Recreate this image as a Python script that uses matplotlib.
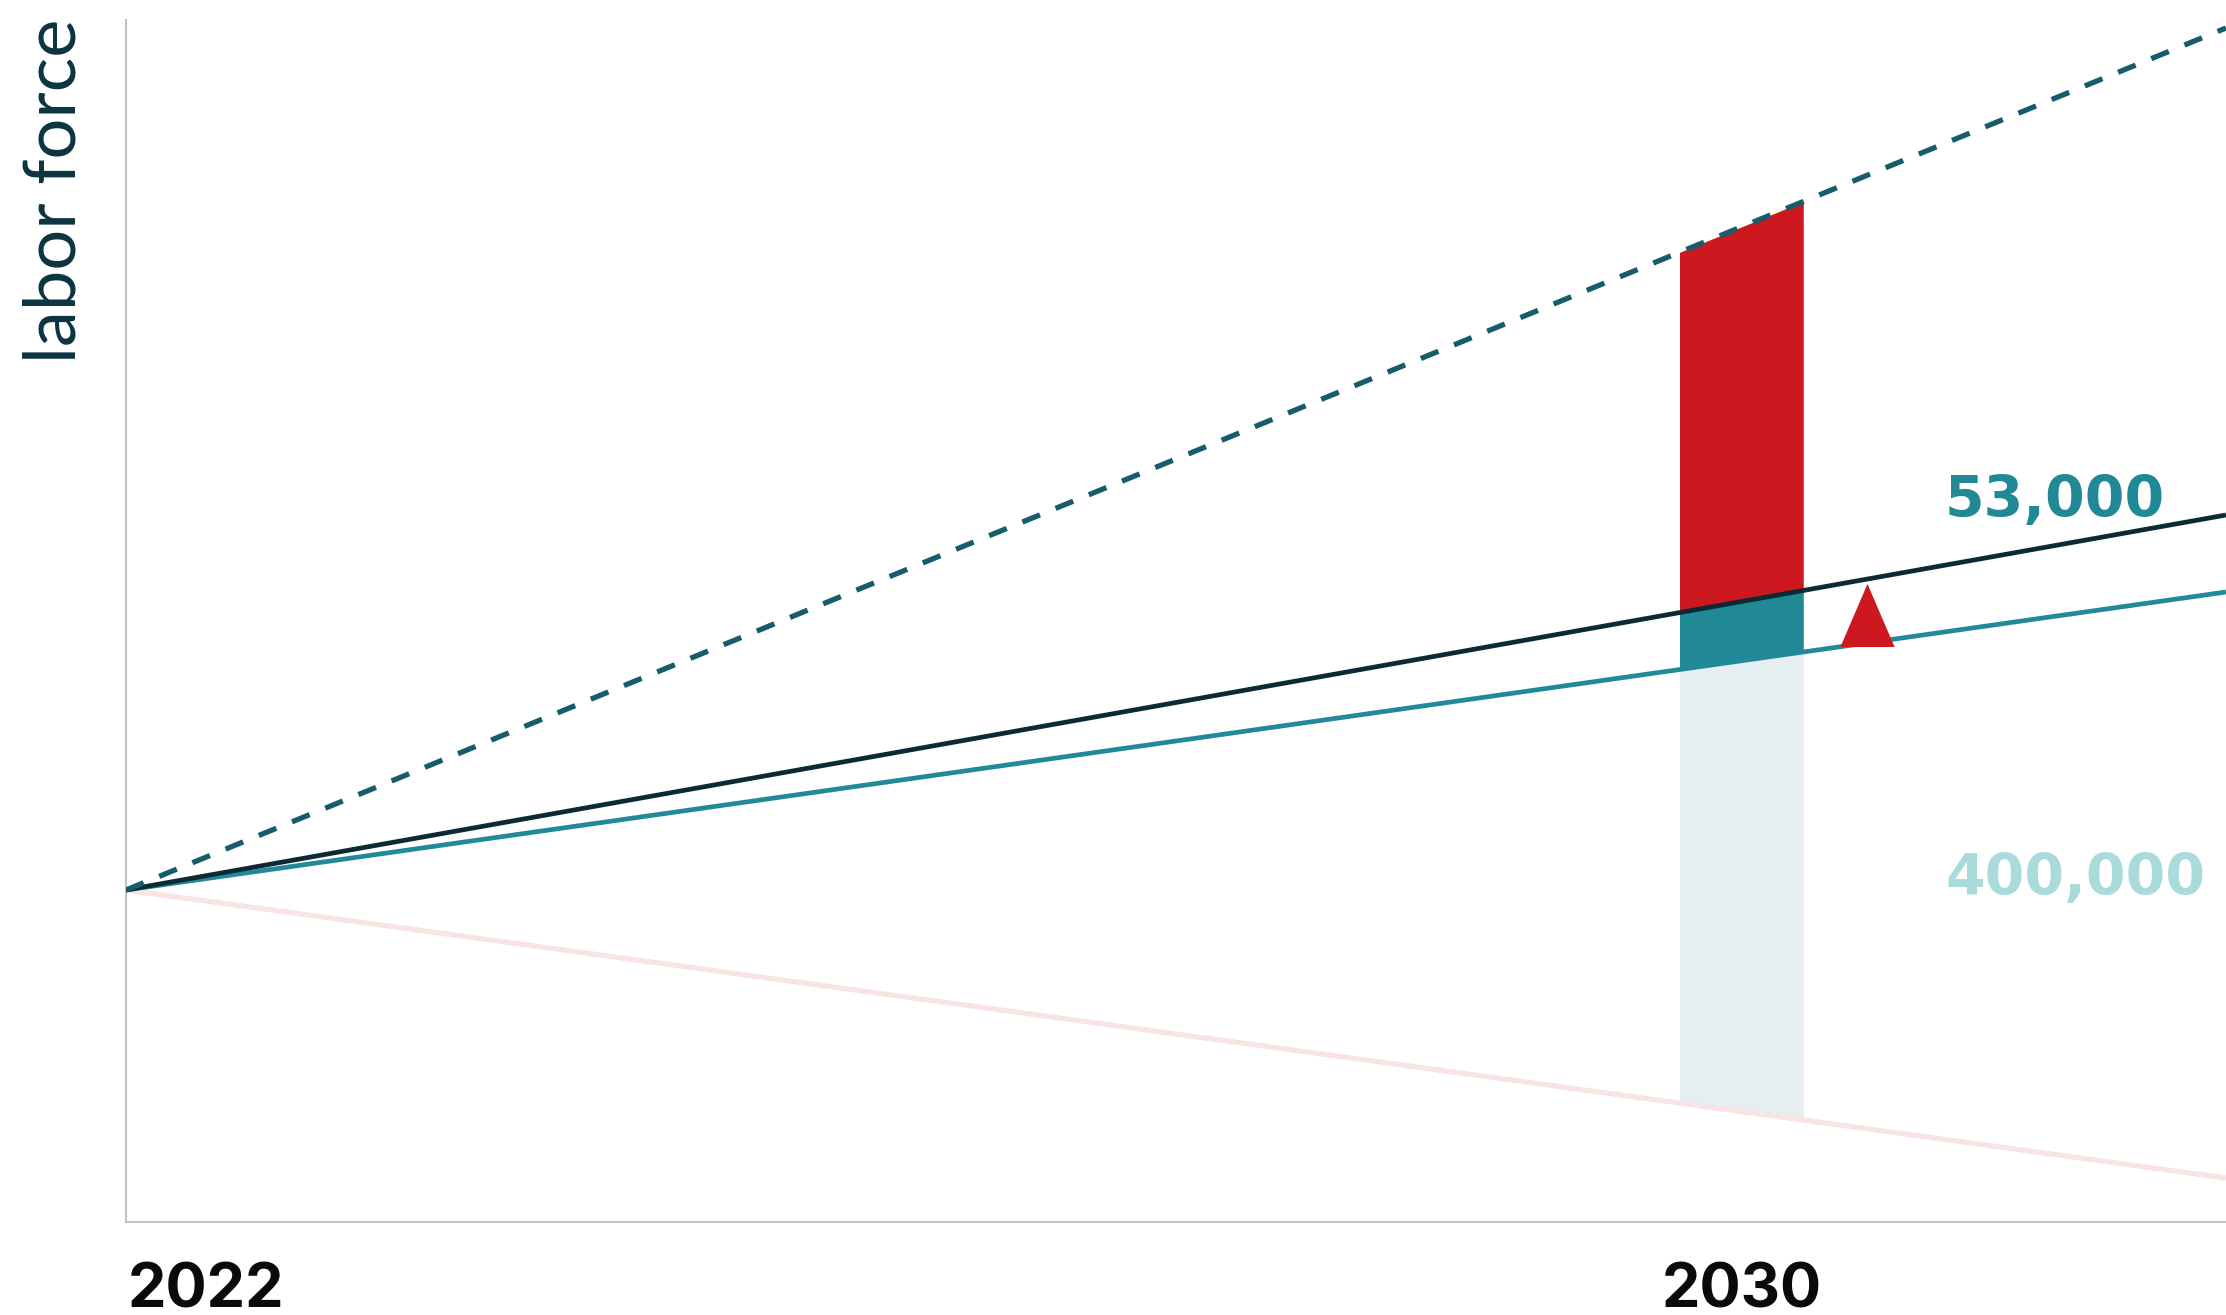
import numpy as np
import matplotlib.pyplot as plt
from matplotlib.path import Path

# Labor force scenarios (index, 2022 = 100)
years = [2022, 2032.4]
upper_path = [100, 186.2]      # dashed upper scenario
current_path = [100, 137.5]    # current trend
baseline_path = [100, 129.8]   # baseline projection
lower_path = [100, 71.2]       # decline scenario

bar_year = 2030
bar_width = 0.613

marker_year = 2030.62
marker_value = 127.55

tick_years = [2022, 2030]
tick_labels = ["2022", "2030"]

label_gap = "53,000"
label_total = "400,000"

fig = plt.figure(figsize=(22.26, 13.15), dpi=100)
ax = fig.add_axes([126 / 2226, 93 / 1315, 2100 / 2226, 1202 / 1315])
ax.set_xlim(years[0], years[-1])
ax.set_ylim(66.8, 187.0)

# stacked bar at 2030, each piece bounded by the scenario lines
bx = np.array([bar_year - bar_width / 2, bar_year + bar_width / 2])
up = np.interp(bx, years, upper_path)
cur = np.interp(bx, years, current_path)
base = np.interp(bx, years, baseline_path)
low = np.interp(bx, years, lower_path)
ax.fill_between(bx, base, low, color="#e5eff2", lw=0, zorder=1)
ax.fill_between(bx, cur, base, color="#218896", lw=0, zorder=1)
ax.fill_between(bx, up, cur, color="#cc181e", lw=0, zorder=1)

# scenario lines
ax.plot(years, lower_path, color="#f9e3e3", lw=3.8, solid_capstyle="butt", zorder=2)
ax.plot(years, baseline_path, color="#22899a", lw=3.4, solid_capstyle="butt", zorder=3)
ax.plot(years, current_path, color="#0c2a33", lw=3.4, solid_capstyle="butt", zorder=4)
ax.plot(years, upper_path, color="#175c6b", lw=3.8, ls=(0, (3.6, 3.2)),
        dash_capstyle="butt", zorder=4)

# increase marker
tri = Path([(0, 0.5), (-0.43, -0.5), (0.43, -0.5), (0, 0.5)],
           [Path.MOVETO, Path.LINETO, Path.LINETO, Path.CLOSEPOLY])
ax.plot([marker_year], [marker_value], marker=tri, markersize=45.4,
        color="#cc181e", markeredgewidth=0, zorder=5)

for s in ["top", "right"]:
    ax.spines[s].set_visible(False)
for s in ["left", "bottom"]:
    ax.spines[s].set_color("#c2c2c2")
    ax.spines[s].set_linewidth(1.5)
ax.set_yticks([])
ax.set_xticks([])

# year labels under the axis
fig.text(128 / 2226, 1 - 1308 / 1315, tick_labels[0], ha="left", va="baseline",
         fontsize=44, fontweight="bold", family="Inter", color="#0a0a0a")
x2030 = ax.transData.transform((tick_years[1], 0))[0] / fig.bbox.width
fig.text(x2030, 1 - 1308 / 1315, tick_labels[1], ha="center", va="baseline",
         fontsize=44, fontweight="bold", family="Inter", color="#0a0a0a")

# value labels
fig.text(1945 / 2226, 1 - 517 / 1315, label_gap, ha="left", va="baseline",
         fontsize=41, fontweight="bold", color="#218896")
fig.text(1945 / 2226, 1 - 895 / 1315, label_total, ha="left", va="baseline",
         fontsize=41, fontweight="bold", color="#a9dbda")

fig.text(75 / 2226, 1 - 363 / 1315, "labor force", rotation=90,
         rotation_mode="anchor", ha="left", va="baseline",
         fontsize=52, family="Lato", color="#0b3440")

fig.savefig("out.png", dpi=100, facecolor="white")
